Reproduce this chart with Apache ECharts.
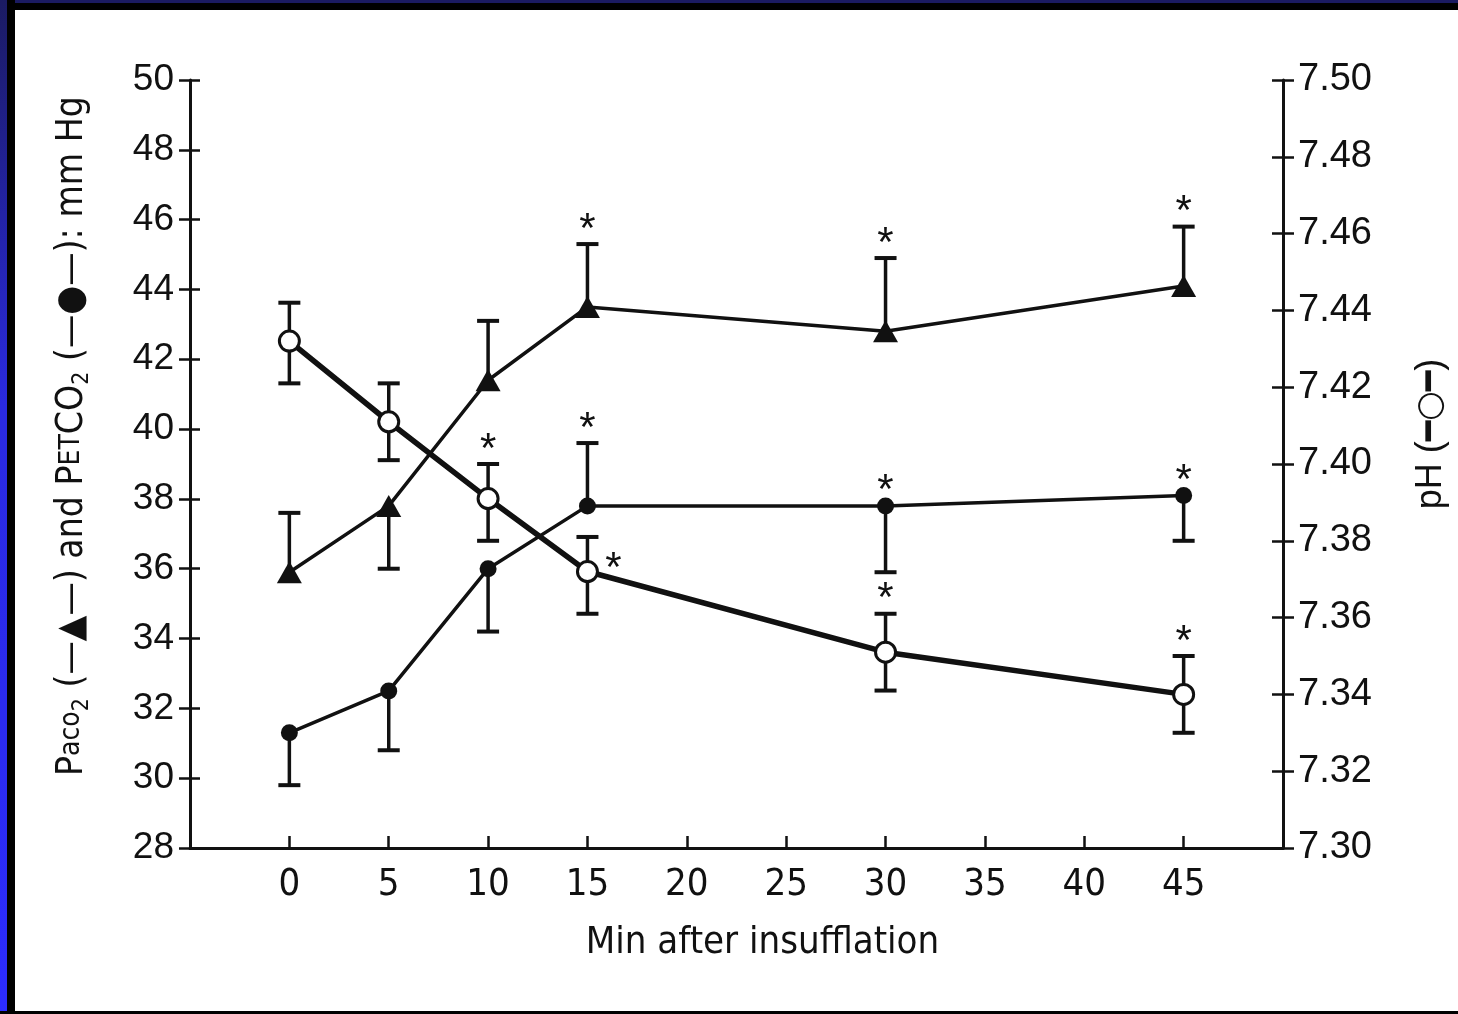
<!DOCTYPE html>
<html>
<head>
<meta charset="utf-8">
<script src="https://cdn.jsdelivr.net/npm/echarts@6/dist/echarts.min.js"></script>
<style>
  html, body { margin: 0; padding: 0; background: #000; }
  #wrap { position: relative; width: 1458px; height: 1014px; overflow: hidden; background: #fff; }
  #chart { position: absolute; left: 0; top: 0; width: 1458px; height: 1014px; }
  .fr { position: absolute; pointer-events: none; }
</style>
</head>
<body>
<div id="wrap">
  <div id="chart"></div>
  <div class="fr" style="left:0;top:0;width:1458px;height:10px;background:#000;"></div>
  <div class="fr" style="left:0;top:0;width:1458px;height:3px;background:#1b1b62;"></div>
  <div class="fr" style="left:0;top:0;width:15px;height:1014px;background:#000;"></div>
  <div class="fr" style="left:0;top:0;width:7px;height:1014px;background:linear-gradient(#1b1b62,#2a2ae0 40%,#2c2cff);"></div>
  <div class="fr" style="left:0;top:1011px;width:1458px;height:3px;background:#000;"></div>
</div>
<script>
// ---- data ----
const times = [0, 5, 10, 15, 30, 45];
const xTicks = [0, 5, 10, 15, 20, 25, 30, 35, 40, 45];

const paco2       = [35.9, 37.8, 41.4, 43.5, 42.8, 44.1];
const paco2ErrEnd = [37.6, 36.0, 43.1, 45.3, 44.9, 45.8];
const paco2Sig    = [0, 0, 0, 1, 1, 1];

const petco2       = [31.3, 32.5, 36.0, 37.8, 37.8, 38.1];
const petco2ErrEnd = [29.8, 30.8, 34.2, 39.6, 35.9, 36.8];
const petco2Sig    = [0, 0, 0, 1, 1, 1];

const ph     = [7.432, 7.411, 7.391, 7.372, 7.351, 7.340];
const phLow  = [7.421, 7.401, 7.380, 7.361, 7.341, 7.330];
const phHigh = [7.442, 7.421, 7.400, 7.381, 7.361, 7.350];
const phSig  = [0, 0, 1, 1, 1, 1];

const leftTicks = [28, 30, 32, 34, 36, 38, 40, 42, 44, 46, 48, 50];
const rightTicks = ['7.30','7.32','7.34','7.36','7.38','7.40','7.42','7.44','7.46','7.48','7.50'];

// ---- chart ----
const INK = '#111';
const narrow = "'Liberation Sans Narrow', 'DejaVu Sans Condensed', 'Liberation Sans', sans-serif";
const sans = "'Liberation Sans', Arial, sans-serif";

const chart = echarts.init(document.getElementById('chart'), null, { renderer: 'canvas' });

// star placement override (pH at 15 min sits to the right of the marker)
const starRight = { ph: { 3: true } };

function errRender(key, sig) {
  return function (params, api) {
    const i = params.dataIndex;
    const x = api.value(0);
    const a = api.coord([x, api.value(1)]);
    const b = api.coord([x, api.value(2)]);
    const top = Math.min(a[1], b[1]);
    const cap = 11;
    const children = [
      { type: 'line', shape: { x1: a[0], y1: a[1], x2: b[0], y2: b[1] }, style: { stroke: INK, lineWidth: 3.5 } },
      { type: 'line', shape: { x1: b[0] - cap, y1: b[1], x2: b[0] + cap, y2: b[1] }, style: { stroke: INK, lineWidth: 4 } }
    ];
    if (key === 'ph') {
      children.push({ type: 'line', shape: { x1: a[0] - cap, y1: a[1], x2: a[0] + cap, y2: a[1] }, style: { stroke: INK, lineWidth: 4 } });
    }
    if (sig[i]) {
      let sx = b[0], sy = top - 14;
      if (starRight[key] && starRight[key][i]) {
        const m = api.coord([x, api.value(3)]);
        sx = m[0] + 26; sy = m[1] - 2;
      }
      children.push({ type: 'text', x: sx, y: sy, style: { text: '*', fill: INK, font: '42px ' + sans, textAlign: 'center', textVerticalAlign: 'middle' } });
    }
    return { type: 'group', children: children };
  };
}

const paco2Err = times.map((t, i) => [t, paco2[i], paco2ErrEnd[i], paco2[i]]);
const petco2Err = times.map((t, i) => [t, petco2[i], petco2ErrEnd[i], petco2[i]]);
const phErr = times.map((t, i) => [t, phLow[i], phHigh[i], ph[i]]);

const option = {
  backgroundColor: '#fff',
  animation: false,
  grid: { left: 190, right: 175, top: 80, bottom: 166, outerBoundsMode: 'none', containLabel: false },
  xAxis: {
    type: 'value', min: -5, max: 50, interval: 5,
    axisLine: { show: true, onZero: false, lineStyle: { color: INK, width: 3 } },
    axisTick: { show: true, inside: true, length: 12, lineStyle: { color: INK, width: 2.5 } },
    splitLine: { show: false },
    axisLabel: {
      margin: 18, color: INK, fontFamily: narrow, fontSize: 38,
      formatter: v => (xTicks.indexOf(v) >= 0 ? String(v) : '')
    },
    name: 'Min after insufflation', nameLocation: 'middle', nameGap: 76,
    nameTextStyle: { color: INK, fontFamily: narrow, fontSize: 38, padding: [0, 0, 0, 52] }
  },
  yAxis: [
    {
      type: 'value', position: 'left', min: 28, max: 50, interval: 2,
      axisLine: { show: true, onZero: false, lineStyle: { color: INK, width: 3 } },
      axisTick: { show: true, inside: false, length: 11, lineStyle: { color: INK, width: 2.5 } },
      splitLine: { show: false },
      axisLabel: { margin: 16, color: INK, fontFamily: sans, fontSize: 37,
        formatter: v => (leftTicks.indexOf(v) >= 0 ? String(v) : '') },
      name: '{n|P}{s|aco}{b|2}{n| (—▲—) and P}{s|ET}{n|CO}{b|2}{n| (—●—): mm Hg}',
      nameLocation: 'middle', nameGap: 96, nameRotate: 90,
      nameTextStyle: {
        color: INK, padding: [0, 0, 0, 56],
        rich: {
          n: { fontFamily: narrow, fontSize: 37, color: INK, lineHeight: 44, verticalAlign: 'middle' },
          s: { fontFamily: narrow, fontSize: 28, color: INK, lineHeight: 44, verticalAlign: 'middle' },
          b: { fontFamily: narrow, fontSize: 23, color: INK, lineHeight: 44, verticalAlign: 'bottom' }
        }
      }
    },
    {
      type: 'value', position: 'right', min: 7.30, max: 7.50, interval: 0.02,
      axisLine: { show: true, onZero: false, lineStyle: { color: INK, width: 3 } },
      axisTick: { show: true, inside: false, length: 11, lineStyle: { color: INK, width: 2.5 } },
      splitLine: { show: false },
      axisLabel: { margin: 15, color: INK, fontFamily: sans, fontSize: 38,
        formatter: v => { const s = v.toFixed(2); return rightTicks.indexOf(s) >= 0 ? s : ''; } },
      name: '{n|pH (}{o|━○━}{n|)}', nameLocation: 'middle', nameGap: 126, nameRotate: 90,
      nameTextStyle: {
        color: INK, padding: [0, 0, 0, 60],
        rich: {
          n: { fontFamily: sans, fontSize: 36, color: INK, lineHeight: 44, verticalAlign: 'middle' },
          o: { fontFamily: "'DejaVu Sans', sans-serif", fontSize: 34, fontWeight: 'bold', color: INK, lineHeight: 44, verticalAlign: 'middle' }
        }
      }
    },
    {
      type: 'value', position: 'left', min: 28, max: 50, interval: 2,
      axisLine: { show: false, onZero: false }, axisLabel: { show: false }, splitLine: { show: false },
      axisTick: { show: true, inside: true, length: 10, lineStyle: { color: INK, width: 2.5 } }
    },
    {
      type: 'value', position: 'right', min: 7.30, max: 7.50, interval: 0.02,
      axisLine: { show: false, onZero: false }, axisLabel: { show: false }, splitLine: { show: false },
      axisTick: { show: true, inside: true, length: 11, lineStyle: { color: INK, width: 2.5 } }
    }
  ],
  series: [
    { type: 'custom', yAxisIndex: 0, data: paco2Err, renderItem: errRender('paco2', paco2Sig), z: 2, silent: true },
    { type: 'custom', yAxisIndex: 0, data: petco2Err, renderItem: errRender('petco2', petco2Sig), z: 2, silent: true },
    { type: 'custom', yAxisIndex: 1, data: phErr, renderItem: errRender('ph', phSig), z: 2, silent: true },
    {
      name: 'PaCO2', type: 'line', yAxisIndex: 0, z: 3,
      data: times.map((t, i) => [t, paco2[i]]),
      symbol: 'triangle', symbolSize: [25, 22], showAllSymbol: true,
      lineStyle: { color: INK, width: 3.5 },
      itemStyle: { color: INK, borderWidth: 0 }
    },
    {
      name: 'PetCO2', type: 'line', yAxisIndex: 0, z: 3,
      data: times.map((t, i) => [t, petco2[i]]),
      symbol: 'circle', symbolSize: 17, showAllSymbol: true,
      lineStyle: { color: INK, width: 3.5 },
      itemStyle: { color: INK, borderWidth: 0 }
    },
    {
      name: 'pH', type: 'line', yAxisIndex: 1, z: 4,
      data: times.map((t, i) => [t, ph[i]]),
      symbol: 'circle', symbolSize: 20, showAllSymbol: true,
      lineStyle: { color: INK, width: 5.5 },
      itemStyle: { color: '#fff', borderColor: INK, borderWidth: 3 }
    }
  ]
};
chart.setOption(option);
</script>
</body>
</html>
